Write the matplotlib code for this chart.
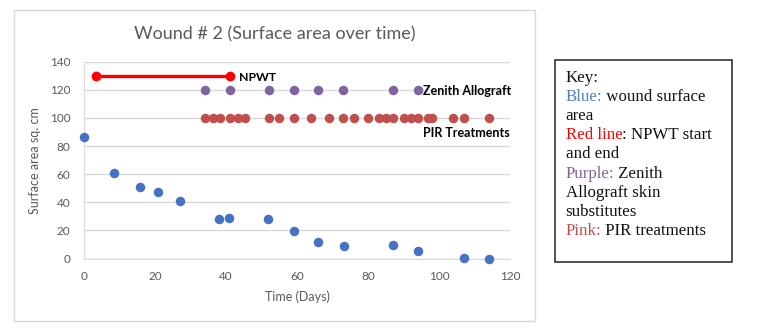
import matplotlib
matplotlib.use("Agg")
import matplotlib.pyplot as plt
from matplotlib.patches import Rectangle

plt.rcParams["font.family"] = ["Lato", "DejaVu Sans"]

# wound surface area (blue)
days = [0, 8.3, 15.8, 20.9, 26.9, 37.9, 40.8, 51.8, 59.2, 66, 73.2, 87.1, 94, 107.1, 114]
area = [86.5, 60.7, 51.1, 47.3, 40.8, 28.0, 28.7, 28.0, 19.4, 11.8, 8.7, 9.7, 5.2, 0.5, 0]

# NPWT start / end (red line)
npwt_days = [3.4, 41.1]
npwt_y = [130, 130]

# Zenith allograft applications (purple)
zenith_days = [34, 41, 52, 59, 66, 73, 87, 94]
zenith_y = 120

# PIR treatments (dark red)
pir_days = [34, 36.4, 38.2, 41, 43.3, 45.3, 52, 55, 59, 64, 69, 73, 76, 80, 83,
            85, 87, 90, 92, 94, 97, 98, 104, 107, 114]
pir_y = 100

BLUE = "#4472C4"
PURPLE = "#8064A2"
PIR = "#C0504D"
GRID = "#D9D9D9"
TXT = "#595959"

W, H = 759, 332
fig = plt.figure(figsize=(W / 100, H / 100), dpi=100)

# chart frame
fig.patches.append(Rectangle((14 / W, 1 - 321 / H), 521 / W, 311 / H,
                             transform=fig.transFigure, fill=False,
                             edgecolor=GRID, lw=1))

ax = fig.add_axes([84.3 / W, 1 - 258.5 / H, 425.7 / W, 196.8 / H])
ax.set_xlim(0, 120)
ax.set_ylim(0, 140)
ax.set_xticks(range(0, 121, 20))
ax.set_yticks(range(0, 141, 20))
ax.grid(axis="y", color=GRID, lw=1)
ax.set_axisbelow(True)
for s in ["top", "right"]:
    ax.spines[s].set_visible(False)
for s in ["left", "bottom"]:
    ax.spines[s].set_color(GRID)
ax.tick_params(length=0, labelsize=8.5, labelcolor=TXT)
ax.tick_params(axis="y", pad=10)
ax.tick_params(axis="x", pad=9)

ax.scatter(days, area, s=34, color=BLUE, zorder=3, clip_on=False)
ax.plot(npwt_days, npwt_y, color="#FF0000", lw=2.4, marker="o", ms=6, zorder=3)
ax.scatter(zenith_days, [zenith_y] * len(zenith_days), s=34, color=PURPLE, zorder=3)
ax.scatter(pir_days, [pir_y] * len(pir_days), s=34, color=PIR, zorder=3)

ax.text(43.7, 129, "NPWT", fontsize=8.8, fontweight="bold", va="center")
ax.text(95.6, 119.3, "Zenith Allograft", fontsize=9, fontweight="bold", va="center")
ax.text(119.8, 89.2, "PIR Treatments", fontsize=9, fontweight="bold", va="center", ha="right")

ax.set_xlabel("Time (Days)", fontsize=9, color=TXT, labelpad=6)
ax.set_ylabel("Surface area sq. cm", fontsize=9, color=TXT, labelpad=6)

fig.text(275 / W, 1 - 34 / H, "Wound # 2 (Surface area over time)",
         fontsize=13, color=TXT, ha="center", va="center")

# key box
fig.patches.append(Rectangle((555 / W, 1 - 262 / H), 176.7 / W, 202 / H,
                             transform=fig.transFigure, fill=False,
                             edgecolor="#222222", lw=1.1))

key_lines = [
    ("", "", "Key:"),
    ("Blue:", "#4F81BD", " wound surface"),
    ("", "", "area"),
    ("Red line", "#FF0000", ": NPWT start"),
    ("", "", "and end"),
    ("Purple:", PURPLE, " Zenith"),
    ("", "", "Allograft skin"),
    ("", "", "substitutes"),
    ("Pink:", PIR, " PIR treatments"),
]
serif = ["Liberation Serif", "DejaVu Serif"]
fs = 12.2
y0 = 81.7
for i, (word, col, rest) in enumerate(key_lines):
    y = 1 - (y0 + i * 19.2) / H
    if word:
        t = fig.text(565.5 / W, y, word, color=col, fontsize=fs,
                     family=serif, va="baseline")
        plt.annotate(rest, xy=(1, 0), xycoords=t, fontsize=fs,
                     family=serif, color="#111111", va="bottom", ha="left",
                     annotation_clip=False)
    else:
        fig.text(565.5 / W, y, rest, color="#111111", fontsize=fs,
                 family=serif, va="baseline")

fig.savefig("out.png", dpi=100)
